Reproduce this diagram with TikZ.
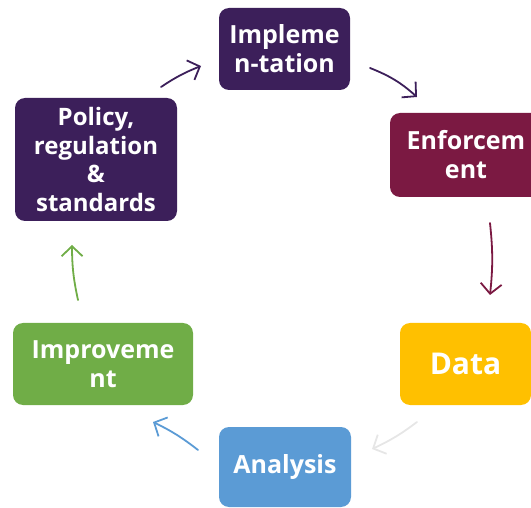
\documentclass[tikz,border=0pt]{standalone}
\usepackage{fontspec}
\setmainfont{Open Sans}
\usetikzlibrary{arrows.meta}
\definecolor{cpurple}{HTML}{3C1F5A}
\definecolor{cmaroon}{HTML}{7B1942}
\definecolor{camber}{HTML}{FFC000}
\definecolor{cblue}{HTML}{5B9BD5}
\definecolor{cgreen}{HTML}{70AD47}
\definecolor{cgray}{HTML}{E6E6E6}
\tikzset{
  stagebox/.style={rectangle, rounded corners=10pt, draw=none, text=white, align=center,
    font=\fontsize{25}{29}\selectfont\bfseries, inner sep=0pt},
  flow/.style={line width=1.8pt, line cap=round, -{Straight Barb[length=10pt,width=21pt,line width=1.8pt]}},
}
\begin{document}
\begin{tikzpicture}[x=1pt,y=-1pt]
\useasboundingbox (0,0) rectangle (531,508);
\begin{scope}
\clip (0,0) rectangle (531,508);
\node[stagebox, fill=cpurple, minimum width=131pt, minimum height=82pt] (imp) at (284.5,49) {Impleme\\n-tation};
\node[stagebox, fill=cmaroon, minimum width=152pt, minimum height=84pt] (enf) at (466,155) {Enforcem\\ent};
\node[stagebox, fill=camber, minimum width=131pt, minimum height=82pt, font=\fontsize{30}{36}\selectfont\bfseries] (dat) at (465.5,364) {Data};
\node[stagebox, fill=cblue, minimum width=132pt, minimum height=80pt] (ana) at (285,467) {Analysis};
\node[stagebox, fill=cgreen, minimum width=180pt, minimum height=82pt] (imv) at (103,364) {Improveme\\nt};
\node[stagebox, fill=cpurple, minimum width=162pt, minimum height=123pt, font=\fontsize{24}{28.5}\selectfont\bfseries] (pol) at (96,159.5) {Policy,\\regulation\\\&\\standards};
\end{scope}
\coordinate (a1s) at (161,87);  \coordinate (a1e) at (201,66);
\coordinate (a2s) at (370,68);  \coordinate (a2e) at (417,97);
\coordinate (a3s) at (490,223); \coordinate (a3e) at (490,295);
\coordinate (a4s) at (417,422); \coordinate (a4e) at (372,449);
\coordinate (a5s) at (198,450); \coordinate (a5e) at (153,422);
\coordinate (a6s) at (78,300);  \coordinate (a6e) at (72,245);
\draw[flow, cpurple] (a1s) to[bend left=6] (a1e);
\draw[flow, cpurple] (a2s) to[bend left=10] (a2e);
\draw[flow, cmaroon] (a3s) to[bend left=6] (a3e);
\draw[flow, cgray] (a4s) to[bend left=6] (a4e);
\draw[flow, cblue] (a5s) to[bend right=6] (a5e);
\draw[flow, cgreen] (a6s) to[bend left=6] (a6e);
\end{tikzpicture}
\end{document}
